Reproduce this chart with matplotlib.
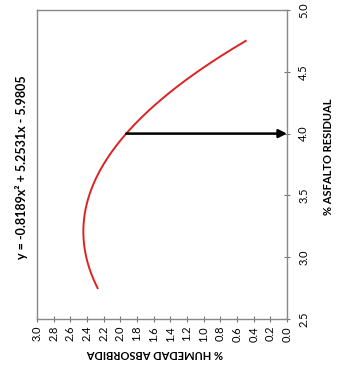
import matplotlib.pyplot as plt
import numpy as np

# Trend line: % humedad absorbida as a function of % asfalto residual
coef = [-0.8189, 5.2531, -5.9805]
asfalto_range = [2.75, 4.75]
asfalto_design = 4.0

hum_ticks = [0.0, 0.2, 0.4, 0.6, 0.8, 1.0, 1.2, 1.4, 1.6, 1.8, 2.0, 2.2, 2.4, 2.6, 2.8, 3.0]
asf_ticks = [2.5, 3.0, 3.5, 4.0, 4.5, 5.0]

W, H = 350, 371
fig = plt.figure(figsize=(W / 100, H / 100), dpi=100)
plt.rcParams["font.family"] = ["Lato", "DejaVu Sans"]

# chart is drawn turned on its side: humidity runs right-to-left along the bottom,
# asphalt content runs upward along the right edge
ax = fig.add_axes([37 / W, 1 - 319 / H, 250 / W, 309 / H])

asf = np.linspace(asfalto_range[0], asfalto_range[1], 200)
hum = np.polyval(coef, asf)
ax.plot(hum, asf, color="#dd2222", lw=1.4)

hum_design = np.polyval(coef, asfalto_design)
ax.annotate("", xy=(0.0, asfalto_design), xytext=(hum_design, asfalto_design),
            arrowprops=dict(arrowstyle="-|>", color="black", lw=1.8,
                            mutation_scale=12, shrinkA=0, shrinkB=0))

ax.set_xlim(3.0, 0.0)
ax.set_ylim(2.5, 5.0)
ax.set_xticks(hum_ticks)
ax.set_xticklabels([f"{v:.1f}" for v in hum_ticks], rotation=90, fontsize=8)
ax.set_yticks(asf_ticks)
ax.set_yticklabels([f"{v:.1f}" for v in asf_ticks], rotation=90, fontsize=8, va="center")
ax.yaxis.tick_right()
ax.tick_params(axis="both", direction="inout", length=4, width=0.8, color="#777777")
ax.tick_params(axis="x", pad=3)
ax.tick_params(axis="y", pad=6)
for s in ax.spines.values():
    s.set_color("#888888")
    s.set_linewidth(1.0)

fig.text(155 / W, 1 - 353 / H, "% HUMEDAD ABSORBIDA", rotation=180, ha="center",
         va="center", fontsize=8, fontweight="bold")
fig.text(328 / W, 1 - 157 / H, "% ASFALTO RESIDUAL", rotation=90, ha="center",
         va="center", fontsize=8, fontweight="bold")
fig.text(22 / W, 1 - 167 / H, "y = -0.8189x² + 5.2531x - 5.9805", rotation=90,
         ha="center", va="center", fontsize=9, fontweight="bold")

fig.savefig("out.png", dpi=100)
